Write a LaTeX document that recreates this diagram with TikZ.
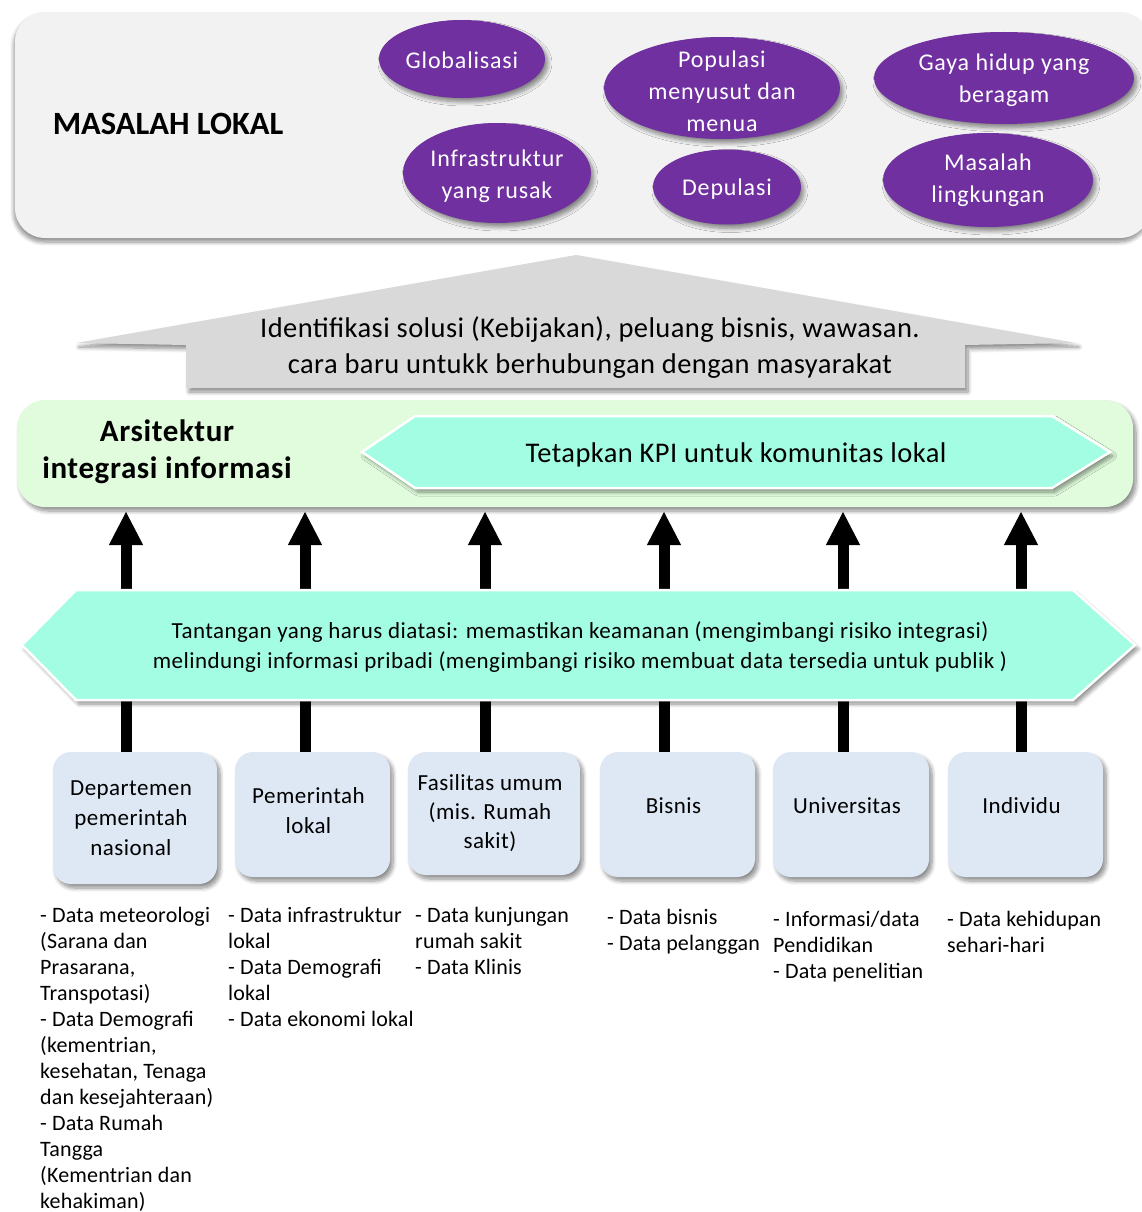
\documentclass[tikz,border=0pt]{standalone}
\usepackage{fontspec}
\setmainfont{Carlito}
\newfontfamily\trackA[LetterSpace=3.5]{Carlito}
\newfontfamily\trackB[LetterSpace=1.5]{Carlito}
\newfontfamily\trackC[LetterSpace=2]{Carlito}
\newfontfamily\trackD[LetterSpace=0.8]{Carlito}
\usetikzlibrary{shapes.geometric,arrows.meta,shadows.blur}
\definecolor{panelgray}{HTML}{F2F2F2}
\definecolor{purp}{HTML}{7030A0}
\definecolor{arrowgray}{HTML}{D9D9D9}
\definecolor{mint}{HTML}{E0FCDC}
\definecolor{aqua}{HTML}{A3FDE2}
\definecolor{boxblue}{HTML}{DDE8F4}
\begin{document}
\begin{tikzpicture}[x=1pt,y=-1pt,
  sh/.style={blur shadow={shadow xshift=3pt,shadow yshift=-4pt,shadow blur radius=4pt,shadow blur steps=8,shadow opacity=45}},
  issue/.style={ellipse, fill=purp, inner sep=0pt, sh},
  issuetext/.style={text=white, align=center, font=\trackA\fontsize{24}{32}\selectfont},
  srcbox/.style={rectangle, rounded corners=18pt, fill=boxblue, sh, inner sep=0pt},
  srctext/.style={align=center, xshift=-4pt, font=\trackC\fontsize{23}{30}\selectfont},
  datalist/.style={anchor=north west, inner sep=0pt, align=left, font=\trackD\fontsize{22}{26}\selectfont},
  uparrow/.style={draw=black, fill=black, opacity=1, line width=11pt,
                  -{Triangle[width=34pt,length=33pt,line width=1pt,fill=black]}},
  hexbox/.style={fill=aqua, draw=white, line width=2.5pt, sh}
]
\useasboundingbox (0,0) rectangle (1141,1212);

% top panel: local problems
\node[rectangle, fill=panelgray, rounded corners=30pt, minimum width=1135pt, minimum height=226pt,
      blur shadow={shadow xshift=-1pt,shadow yshift=-4pt,shadow blur radius=4pt,shadow blur steps=8,shadow opacity=45}]
      (top) at (582.5,125) {};
\node[font=\fontsize{32.5}{38}\selectfont\bfseries] (masalah) at (168,124) {MASALAH LOKAL};

\node[issue, minimum width=166pt, minimum height=78pt, label={[issuetext,yshift=-1pt]center:Globalisasi}] (glob) at (462,59) {};
\node[issue, minimum width=188pt, minimum height=100pt, label={[issuetext,yshift=-3pt]center:Infrastruktur\\yang rusak}] (infra) at (497,173) {};
\node[issue, minimum width=236pt, minimum height=102pt, label={[issuetext,yshift=-3pt]center:Populasi\\menyusut dan\\menua}] (pop) at (722,88) {};
\node[issue, minimum width=148pt, minimum height=75pt, label={[issuetext,yshift=-2pt]center:Depulasi}] (dep) at (727,187) {};
\node[issue, minimum width=260pt, minimum height=92pt, label={[issuetext,yshift=-2pt]center:Gaya hidup yang\\beragam}] (gaya) at (1004,78) {};
\node[issue, minimum width=210pt, minimum height=94pt, label={[issuetext]center:Masalah\\lingkungan}] (ling) at (988,180) {};

% grey house-shaped arrow
\path[fill=arrowgray, sh] (576,255) -- (1076,343) -- (965,345) -- (965,388) -- (186,388) -- (186,345) -- (76,343) -- cycle;
\node[align=center, font=\trackB\fontsize{28.5}{36}\selectfont] (ident) at (590,348)
  {Identifikasi solusi (Kebijakan), peluang bisnis, wawasan.\\cara baru untukk berhubungan dengan masyarakat};

% architecture panel
\node[rectangle, fill=mint, rounded corners=28pt, minimum width=1116pt, minimum height=107pt, sh] (arch) at (575,453.5) {};
\node[align=center, font=\trackC\fontsize{31}{37}\selectfont\bfseries] (archtxt) at (167,452) {Arsitektur\\integrasi informasi};
\path[hexbox] (362,452) -- (415,416) -- (1052,416) -- (1110,452) -- (1052,488) -- (415,488) -- cycle;
\node[font=\trackB\fontsize{28.5}{32}\selectfont] (kpi) at (736,455) {Tetapkan KPI untuk komunitas lokal};

% data sources
\node[srcbox, minimum width=164pt, minimum height=132pt, label={[srctext]center:Departemen\\pemerintah\\nasional}] (b1) at (135,818) {};
\node[srcbox, minimum width=155pt, minimum height=125pt, label={[srctext,yshift=4pt]center:Pemerintah\\lokal}] (b2) at (312.5,814.5) {};
\node[srcbox, minimum width=172pt, minimum height=123pt, label={[srctext,font=\trackC\fontsize{23}{29}\selectfont]center:Fasilitas umum\\(mis. Rumah\\sakit)}] (b3) at (494,813.5) {};
\node[srcbox, minimum width=155pt, minimum height=125pt, label={[srctext,yshift=9pt]center:Bisnis}] (b4) at (677.5,814.5) {};
\node[srcbox, minimum width=156pt, minimum height=125pt, label={[srctext,yshift=9pt]center:Universitas}] (b5) at (851,814.5) {};
\node[srcbox, minimum width=155pt, minimum height=125pt, label={[srctext,yshift=9pt]center:Individu}] (b6) at (1025.5,814.5) {};

% arrows from the sources up to the architecture panel
\coordinate (t1) at (126,512);
\coordinate (t2) at (305,512);
\coordinate (t3) at (485,512);
\coordinate (t4) at (664,512);
\coordinate (t5) at (843,512);
\coordinate (t6) at (1021,512);
\foreach \i in {1,...,6} {
  \draw[uparrow] (t\i |- b\i.north) -- (t\i);
}

% challenge banner laid across the arrows
\path[hexbox] (22,645) -- (76,590) -- (1073,590) -- (1135,645) -- (1073,700) -- (76,700) -- cycle;
\node[align=center, font=\trackC\fontsize{23}{30}\selectfont] (chal) at (580,647)
  {Tantangan yang harus diatasi: memastikan keamanan (mengimbangi risiko integrasi)\\
   melindungi informasi pribadi (mengimbangi risiko membuat data tersedia untuk publik )};

% data lists
\node[datalist] (d1) at (40,907) {- Data meteorologi\\(Sarana dan\\Prasarana,\\Transpotasi)\\- Data Demografi\\(kementrian,\\kesehatan, Tenaga\\dan kesejahteraan)\\- Data Rumah\\Tangga\\(Kementrian dan\\kehakiman)};
\node[datalist] (d2) at (228,907) {- Data infrastruktur\\lokal\\- Data Demografi\\lokal\\- Data ekonomi lokal};
\node[datalist] (d3) at (415,907) {- Data kunjungan\\rumah sakit\\- Data Klinis};
\node[datalist] (d4) at (607,909) {- Data bisnis\\- Data pelanggan};
\node[datalist] (d5) at (773,911) {- Informasi/data\\Pendidikan\\- Data penelitian};
\node[datalist] (d6) at (947,911) {- Data kehidupan\\sehari-hari};
\end{tikzpicture}
\end{document}
